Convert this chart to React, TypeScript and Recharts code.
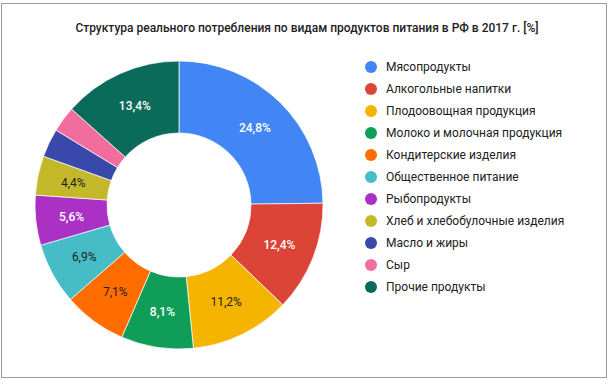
import React from "react";
import { PieChart, Pie, Cell, Legend } from "recharts";

const categories = [
  "Мясопродукты",
  "Алкогольные напитки",
  "Плодоовощная продукция",
  "Молоко и молочная продукция",
  "Кондитерские изделия",
  "Общественное питание",
  "Рыбопродукты",
  "Хлеб и хлебобулочные изделия",
  "Масло и жиры",
  "Сыр",
  "Прочие продукты",
];
const shares = [24.8, 12.4, 11.2, 8.1, 7.1, 6.9, 5.6, 4.4, 3.2, 2.9, 13.4];
const colors = [
  "#4285f4",
  "#db4437",
  "#f4b400",
  "#0f9d58",
  "#ff6d00",
  "#46bdc6",
  "#ab30c4",
  "#c2b82a",
  "#3949ab",
  "#f06d9c",
  "#0b6b5a",
];
const labelColors = [
  "#ffffff",
  "#ffffff",
  "#222222",
  "#ffffff",
  "#222222",
  "#222222",
  "#ffffff",
  "#222222",
  "#ffffff",
  "#ffffff",
  "#ffffff",
];
const title = "Структура реального потребления по видам продуктов питания в РФ в 2017 г. [%]";

const data = categories.map((name, i) => ({ name, value: shares[i] }));

const RAD = Math.PI / 180;

const renderLabel = (props: any) => {
  const { cx, cy, midAngle, innerRadius, outerRadius, index, value } = props;
  if (value < 4) return null;
  const r = (innerRadius + outerRadius) / 2;
  const x = cx + r * Math.cos(-midAngle * RAD);
  const y = cy + r * Math.sin(-midAngle * RAD);
  const white = labelColors[index] === "#ffffff";
  return (
    <text
      x={x}
      y={y}
      fill={labelColors[index]}
      textAnchor="middle"
      dominantBaseline="central"
      fontFamily="Roboto, Arial, sans-serif"
      fontSize={12}
      fontWeight={white ? 500 : 400}
    >
      {value.toFixed(1).replace(".", ",") + "%"}
    </text>
  );
};

const renderLegend = () => (
  <div style={{ fontFamily: "Roboto, Arial, sans-serif" }}>
    {data.map((d, i) => (
      <div
        key={d.name}
        style={{ display: "flex", alignItems: "center", height: 22 }}
      >
        <svg width={12} height={12} style={{ marginRight: 9 }}>
          <circle cx={6} cy={6} r={6} fill={colors[i]} />
        </svg>
        <span style={{ fontSize: 12, color: "#222" }}>{d.name}</span>
      </div>
    ))}
  </div>
);

export default function App() {
  return (
    <div
      style={{
        position: "absolute",
        left: 0,
        top: 0,
        width: 614,
        height: 381,
        background: "#fff",
      }}
    >
      <div
        style={{
          position: "absolute",
          left: 1,
          top: 3,
          width: 606,
          height: 375,
          border: "1px solid #9a9a9a",
          boxSizing: "border-box",
        }}
      />
      <div
        style={{
          position: "absolute",
          left: 0,
          top: 21,
          width: 614,
          textAlign: "center",
          fontFamily: "Roboto, Arial, sans-serif",
          fontSize: 12,
          fontWeight: 500,
          color: "#222",
        }}
      >
        {title}
      </div>
      <PieChart width={614} height={381} margin={{ top: 0, right: 0, bottom: 0, left: 0 }} style={{ position: "absolute", left: 0, top: 0 }}>
        <Pie
          data={data}
          dataKey="value"
          nameKey="name"
          cx={179}
          cy={205}
          innerRadius={72}
          outerRadius={144}
          startAngle={90}
          endAngle={-270}
          stroke="#ffffff"
          strokeWidth={0.7}
          label={renderLabel}
          labelLine={false}
          isAnimationActive={false}
        >
          {data.map((d, i) => (
            <Cell key={d.name} fill={colors[i]} />
          ))}
        </Pie>
        <Legend
          content={renderLegend}
          layout="vertical"
          verticalAlign="top"
          align="right"
          wrapperStyle={{ position: "absolute", left: 365, top: 56, width: 240 }}
        />
      </PieChart>
    </div>
  );
}
